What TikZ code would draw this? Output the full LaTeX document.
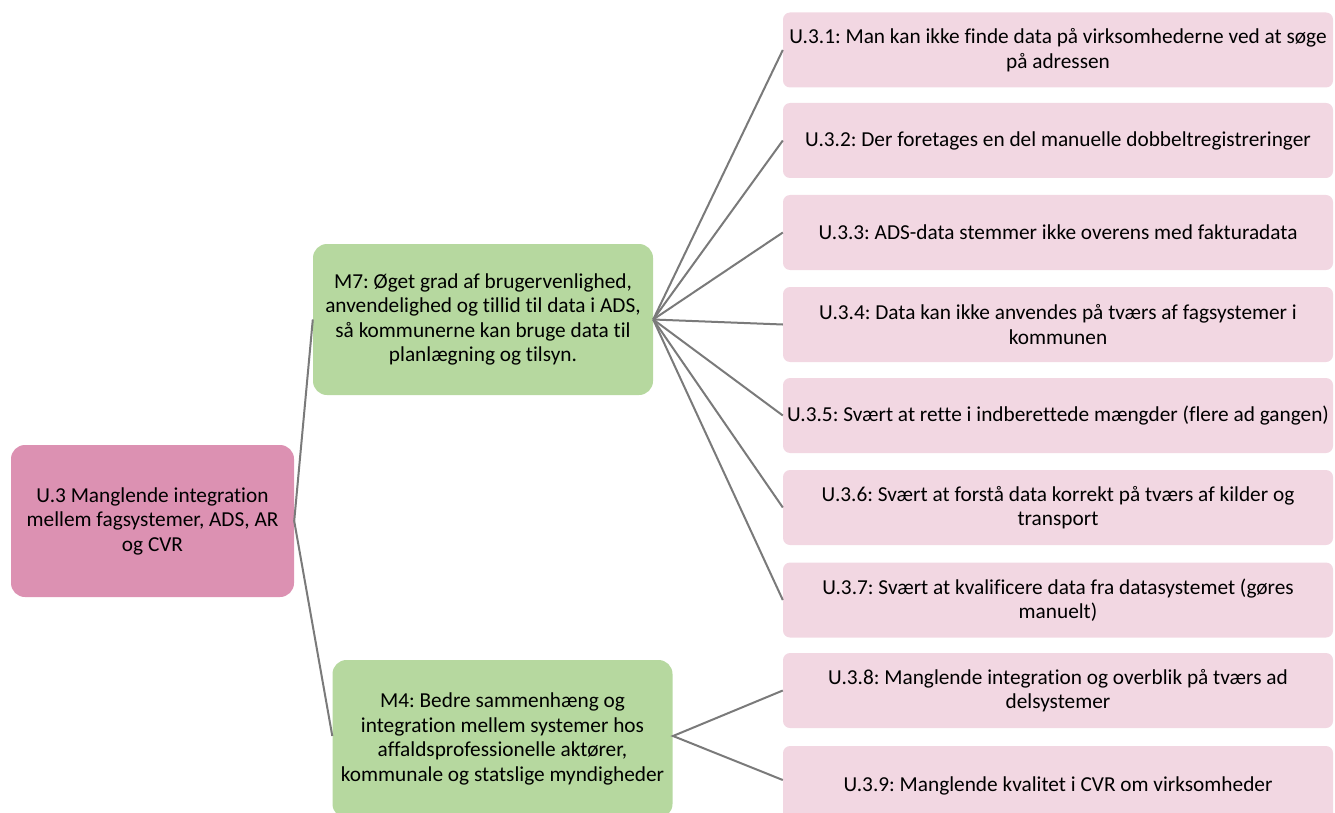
\documentclass[tikz,border=0pt]{standalone}
\usepackage{fontspec}
\setmainfont[Ligatures=NoCommon]{Carlito}
\frenchspacing
\definecolor{rootpink}{HTML}{DC91B2}
\definecolor{midgreen}{HTML}{B6D89F}
\definecolor{leafpink}{HTML}{F2D7E2}
\definecolor{linkgray}{HTML}{7A7A7A}
\begin{document}
\frenchspacing
\begin{tikzpicture}[x=1pt,y=-1pt,
  every node/.style={font=\fontsize{21.3}{24.5}\selectfont, text=black, inner sep=0pt, align=center},
  rootbox/.style={fill=rootpink, rounded corners=14pt, minimum width=283pt, minimum height=152pt},
  midbox/.style={fill=midgreen, rounded corners=14pt, minimum width=340pt, minimum height=151pt},
  leafbox/.style={fill=leafpink, rounded corners=7pt, minimum width=550pt, minimum height=75pt},
  link/.style={draw=linkgray, line width=2pt}]
\useasboundingbox (0,0) rectangle (1335,813);
\node[rootbox] (root) at (152.5,521) {U.3 Manglende integration\\mellem fagsystemer, ADS, AR\\og CVR};
\node[midbox] (m7) at (483,319.5) {M7: Øget grad af brugervenlighed,\\anvendelighed og tillid til data i ADS,\\så kommunerne kan bruge data til\\planlægning og tilsyn.};
\node[midbox, minimum height=158pt] (m4) at (502.5,739) {M4: Bedre sammenhæng og\\integration mellem systemer hos\\affaldsprofessionelle aktører,\\kommunale og statslige myndigheder};
\coordinate (m4e) at (673,736);
\node[leafbox] (l1) at (1058,50) {U.3.1: Man kan ikke finde data på virksomhederne ved at søge\\på adressen};
\node[leafbox] (l2) at (1058,140.5) {U.3.2: Der foretages en del manuelle dobbeltregistreringer};
\node[leafbox] (l3) at (1058,232.5) {U.3.3: ADS-data stemmer ikke overens med fakturadata};
\node[leafbox] (l4) at (1058,324.5) {U.3.4: Data kan ikke anvendes på tværs af fagsystemer i\\kommunen};
\node[leafbox] (l5) at (1058,415.5) {U.3.5: Svært at rette i indberettede mængder (flere ad gangen)};
\node[leafbox] (l6) at (1058,507.5) {U.3.6: Svært at forstå data korrekt på tværs af kilder og\\transport};
\node[leafbox] (l7) at (1058,600) {U.3.7: Svært at kvalificere data fra datasystemet (gøres\\manuelt)};
\node[leafbox] (l8) at (1058,690.5) {U.3.8: Manglende integration og overblik på tværs ad\\delsystemer};
\node[leafbox, minimum height=80pt] (l9) at (1058,786) {U.3.9: Manglende kvalitet i CVR om virksomheder};
\draw[link] (m7.west) -- (root.east) -- (m4.west |- m4e);
\foreach \i in {1,...,7} {\draw[link] (m7.east) -- (l\i.west);}
\draw[link] (l8.west) -- (m4e) -- (l9.west |- 0,780);
\end{tikzpicture}
\end{document}
